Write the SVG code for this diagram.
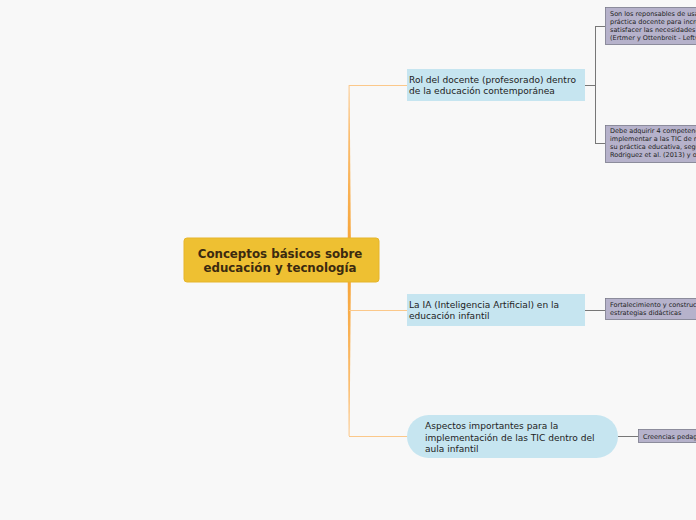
<svg xmlns="http://www.w3.org/2000/svg" width="696" height="520" viewBox="0 0 696 520">
<style>
.bg{fill:#f8f8f8}
.main{fill:#eec032;stroke:#e6b52a;stroke-width:1}
.mt{font-family:"DejaVu Sans",Verdana,sans-serif;font-size:11.8px;font-weight:bold;fill:#3b2a10;text-anchor:middle}
.sub{fill:#c6e5f0}
.st{font-family:"DejaVu Sans",Verdana,sans-serif;font-size:9.05px;fill:#222}
.leaf{fill:#b6b2cb;stroke:#7a7a8a;stroke-width:0.8}
.lt{font-family:"DejaVu Sans",Verdana,sans-serif;font-size:6.5px;fill:#222}
.oc{fill:none;stroke:#fbc88a;stroke-width:1}
.gc{fill:none;stroke:#777;stroke-width:1}
</style>
<defs>
<linearGradient id="tr" x1="0" y1="85" x2="0" y2="436" gradientUnits="userSpaceOnUse">
<stop offset="0" stop-color="#fcc98c"/>
<stop offset="0.5" stop-color="#f7a12e"/>
<stop offset="1" stop-color="#fcc98c"/>
</linearGradient>
</defs>
<rect class="bg" x="0" y="0" width="696" height="520"/>
<g id="connectors">
<polygon points="348.6,85 349.6,85 351,260 347.6,260" fill="url(#tr)"/>
<polygon points="347.6,260 351,260 349.6,436 348.6,436" fill="url(#tr)"/>
<path class="oc" d="M349,85.5 H407"/>
<path class="oc" d="M349,310.5 H407"/>
<path class="oc" d="M349,436.5 H407"/>
<path class="gc" d="M585,85.5 H595.5 M595.5,26 V143 M595,26.5 H605 M595,143.5 H605"/>
<path class="gc" d="M585,310.5 H605"/>
<path class="gc" d="M618,436.5 H638"/>
</g>
<g id="central">
<rect class="main" x="184" y="238" width="195" height="44" rx="3"/>
<text class="mt" x="280" y="258">Conceptos básicos sobre</text>
<text class="mt" x="280" y="272">educación y tecnología</text>
</g>
<g id="n1">
<rect class="sub" x="407" y="69" width="178" height="32"/>
<text class="st" x="409" y="83">Rol del docente (profesorado) dentro</text>
<text class="st" x="409" y="94">de la educación contemporánea</text>
</g>
<g id="n2">
<rect class="sub" x="407" y="294" width="178" height="32"/>
<text class="st" x="409" y="308">La IA (Inteligencia Artificial) en la</text>
<text class="st" x="409" y="319">educación infantil</text>
</g>
<g id="n3">
<rect class="sub" x="407" y="415" width="211" height="43" rx="21.5"/>
<text class="st" x="425" y="429">Aspectos importantes para la</text>
<text class="st" x="425" y="441">implementación de las TIC dentro del</text>
<text class="st" x="425" y="452">aula infantil</text>
</g>
<g id="l1">
<rect class="leaf" x="605.5" y="7.5" width="100" height="37"/>
<text class="lt" x="610" y="16">Son los reponsables de usar las TIC en su</text>
<text class="lt" x="610" y="24">práctica docente para incrementar y</text>
<text class="lt" x="610" y="32">satisfacer las necesidades de sus alumnos</text>
<text class="lt" x="610" y="40">(Ertmer y Ottenbreit - Leftwich, 2010)</text>
</g>
<g id="l2">
<rect class="leaf" x="605.5" y="125.5" width="100" height="37"/>
<text class="lt" x="610" y="133">Debe adquirir 4 competencias para</text>
<text class="lt" x="610" y="141">implementar a las TIC de manera eficaz en</text>
<text class="lt" x="610" y="149">su práctica educativa, según Hernández,</text>
<text class="lt" x="610" y="157">Rodriguez et al. (2013) y otros</text>
</g>
<g id="l3">
<rect class="leaf" x="605.5" y="298.5" width="100" height="21"/>
<text class="lt" x="610" y="307">Fortalecimiento y construcción de</text>
<text class="lt" x="610" y="315">estrategias didácticas</text>
</g>
<g id="l4">
<rect class="leaf" x="638.5" y="429.5" width="70" height="13"/>
<text class="lt" x="643" y="438.5">Creencias pedagógicas</text>
</g>
</svg>
